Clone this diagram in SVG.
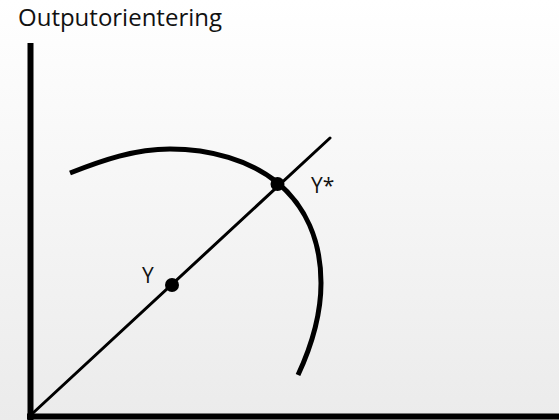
<svg xmlns="http://www.w3.org/2000/svg" width="559" height="420" viewBox="0 0 559 420">
<defs>
<linearGradient id="bg" x1="0" y1="0" x2="0" y2="1">
<stop offset="0" stop-color="#ffffff"/>
<stop offset="1" stop-color="#ebebeb"/>
</linearGradient>
<style>
.lbl{font-family:"Open Sans","DejaVu Sans",sans-serif;fill:#111}
.axis{stroke:#000;stroke-width:6;fill:none}
.dot{fill:#000}
</style>
</defs>
<rect width="559" height="420" fill="url(#bg)"/>
<text class="lbl" x="18" y="26" font-size="23" textLength="204" lengthAdjust="spacingAndGlyphs">Outputorientering</text>
<g id="connectors">
<line class="axis" x1="30.5" y1="43" x2="30.5" y2="420"/>
<line class="axis" x1="27" y1="416.5" x2="559" y2="416.5"/>
<line x1="33" y1="413" x2="330" y2="138" stroke="#000" stroke-width="3" stroke-linecap="round"/>
<path d="M70,173 C103,160 135,149 170,149 C210,149 250,160 278,183 C305,206 321,240 321,283 C321,315 312,345 298,375" fill="none" stroke="#000" stroke-width="5"/>
</g>
<g id="Y">
<circle class="dot" cx="172" cy="285" r="7"/>
<text class="lbl" x="142" y="283" font-size="21">Y</text>
</g>
<g id="Ystar">
<circle class="dot" cx="277.5" cy="184" r="7"/>
<text class="lbl" x="311" y="193" font-size="21">Y*</text>
</g>
</svg>
